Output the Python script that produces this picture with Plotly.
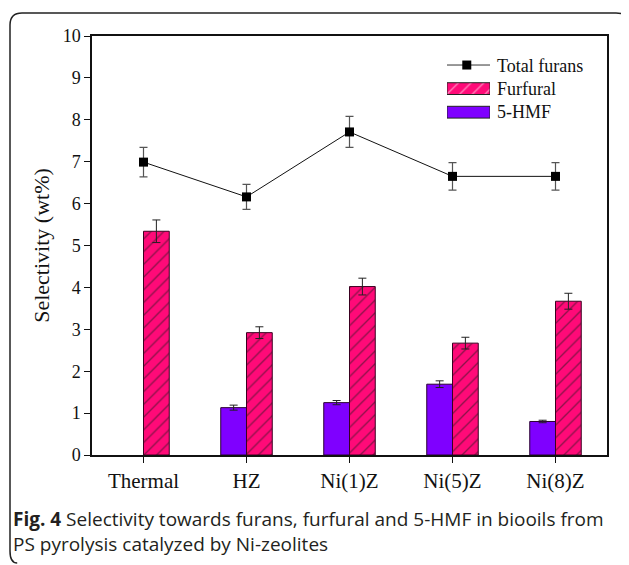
import plotly.graph_objects as go

categories = ["Thermal", "HZ", "Ni(1)Z", "Ni(5)Z", "Ni(8)Z"]
total_furans = [6.99, 6.16, 7.71, 6.65, 6.65]
total_err = [0.35, 0.30, 0.37, 0.33, 0.33]
furfural = [5.34, 2.92, 4.02, 2.67, 3.67]
furfural_err = [0.27, 0.14, 0.20, 0.14, 0.19]
hmf = [None, 1.13, 1.25, 1.69, 0.80]
hmf_err = [0, 0.06, 0.05, 0.08, 0.03]
y_ticks = list(range(0, 11))
legend_labels = ["Total furans", "Furfural", "5-HMF"]

PINK = "#ff0a78"
PURPLE = "#7f00ff"

# page has an 8px body margin; coordinates below are in reference-picture pixels
OFF = 8
W, H = 629 - OFF, 565 - OFF
L, T = 92 - OFF, 36 - OFF
pw, ph = 607 - 92, 455 - 36
R, B = W - L - pw, H - T - ph


def px(x):
    return (x - OFF - L) / pw


def py(y):
    return (H - B - (y - OFF)) / ph


serif = "Liberation Serif, Times New Roman, serif"

fig = go.Figure()
fig.add_trace(go.Bar(
    x=categories, y=hmf, name=legend_labels[2], showlegend=False,
    marker=dict(color=PURPLE, line=dict(color="#2a0030", width=1)),
    error_y=dict(type="data", array=hmf_err, color="#222", thickness=1, width=4),
))
fig.add_trace(go.Bar(
    x=categories, y=furfural, name=legend_labels[1], showlegend=False,
    marker=dict(color=PINK, line=dict(color="#3a0020", width=1),
                pattern=dict(shape="/", fgcolor="#1a1a1a", size=9, solidity=0.15)),
    error_y=dict(type="data", array=furfural_err, color="#222", thickness=1, width=4),
))
fig.add_trace(go.Scatter(
    x=categories, y=total_furans, name=legend_labels[0], mode="lines+markers", showlegend=False,
    line=dict(color="#111", width=1),
    marker=dict(symbol="square", size=9, color="#000"),
    error_y=dict(type="data", array=total_err, color="#555", thickness=1.2, width=4),
))

# ---- custom legend (swatches drawn in a small inset axis) ----
fig.add_trace(go.Bar(
    x=[1, 1], y=legend_labels[1:], orientation="h", xaxis="x2", yaxis="y2",
    showlegend=False, hoverinfo="skip",
    marker=dict(color=[PINK, PURPLE], line=dict(color="#222", width=1),
                pattern=dict(shape=["/", ""], fgcolor="#1a1a1a", size=9, solidity=0.15)),
))
fig.add_trace(go.Scatter(
    x=[-0.07, 1.0], y=[legend_labels[0]] * 2, mode="lines", xaxis="x2", yaxis="y2",
    showlegend=False, hoverinfo="skip", line=dict(color="#333", width=1),
))
fig.add_trace(go.Scatter(
    x=[0.46], y=[legend_labels[0]], mode="markers", xaxis="x2", yaxis="y2",
    showlegend=False, hoverinfo="skip", marker=dict(symbol="square", size=9, color="#000"),
))
for lab, yc in zip(legend_labels, [66, 89, 112]):
    fig.add_annotation(x=px(495), y=py(yc), xref="paper", yref="paper",
                       xanchor="left", yanchor="middle", showarrow=False, text=lab,
                       font=dict(family=serif, size=18, color="#111"))

# outer rounded frame
x0, x1, y0, y1, r = px(10), px(628), py(563), py(13), 12
rx, ry = r / pw, r / ph
path = (f"M {x0},{y0 + ry} L {x0},{y1 - ry} Q {x0},{y1} {x0 + rx},{y1} "
        f"L {x1 - rx},{y1} Q {x1},{y1} {x1},{y1 - ry * 0.6} ")
fig.add_shape(type="path", path=path, xref="paper", yref="paper",
              line=dict(color="#222", width=1.5))
path2 = f"M {x0},{y0 + ry} Q {x0},{y0} {x0 + rx * 0.6},{y0}"
fig.add_shape(type="path", path=path2, xref="paper", yref="paper",
              line=dict(color="#222", width=1.5))

cap_font = dict(family="Open Sans, Noto Sans, sans-serif", size=19, color="#231f20")
fig.add_annotation(
    x=px(11), y=py(531), xref="paper", yref="paper", xanchor="left", yanchor="middle",
    showarrow=False, align="left",
    text=("<b>Fig. 4</b> Selectivity towards furans, furfural and 5-HMF in biooils from"
          "<br>PS pyrolysis catalyzed by Ni-zeolites"),
    font=cap_font,
)

fig.update_layout(
    width=W, height=H,
    margin=dict(l=L, r=R, t=T, b=B),
    paper_bgcolor="white", plot_bgcolor="white",
    barmode="group", bargap=0.5, bargroupgap=0,
    font=dict(family=serif, size=16, color="#111"),
    showlegend=False,
    xaxis=dict(range=[-0.5, 4.5], showline=True, linecolor="#111", linewidth=1.5,
               mirror=True, ticks="outside", ticklen=6, tickcolor="#111",
               tickfont=dict(family=serif, size=21), showgrid=False),
    yaxis=dict(range=[0, 10], tickvals=y_ticks, showline=True, linecolor="#111",
               linewidth=1.5, mirror=True, ticks="outside", ticklen=6, tickcolor="#111",
               tickfont=dict(family=serif, size=18), showgrid=False, zeroline=False,
               title=dict(text="Selectivity (wt%)", font=dict(family=serif, size=22), standoff=7)),
    xaxis2=dict(domain=[px(447), px(490)], range=[0, 1], anchor="y2", visible=False,
                fixedrange=True),
    yaxis2=dict(domain=[py(124), py(56)], anchor="x2", visible=False, type="category",
                categoryorder="array", categoryarray=legend_labels[::-1], fixedrange=True),
)

fig.write_html("out.html")
